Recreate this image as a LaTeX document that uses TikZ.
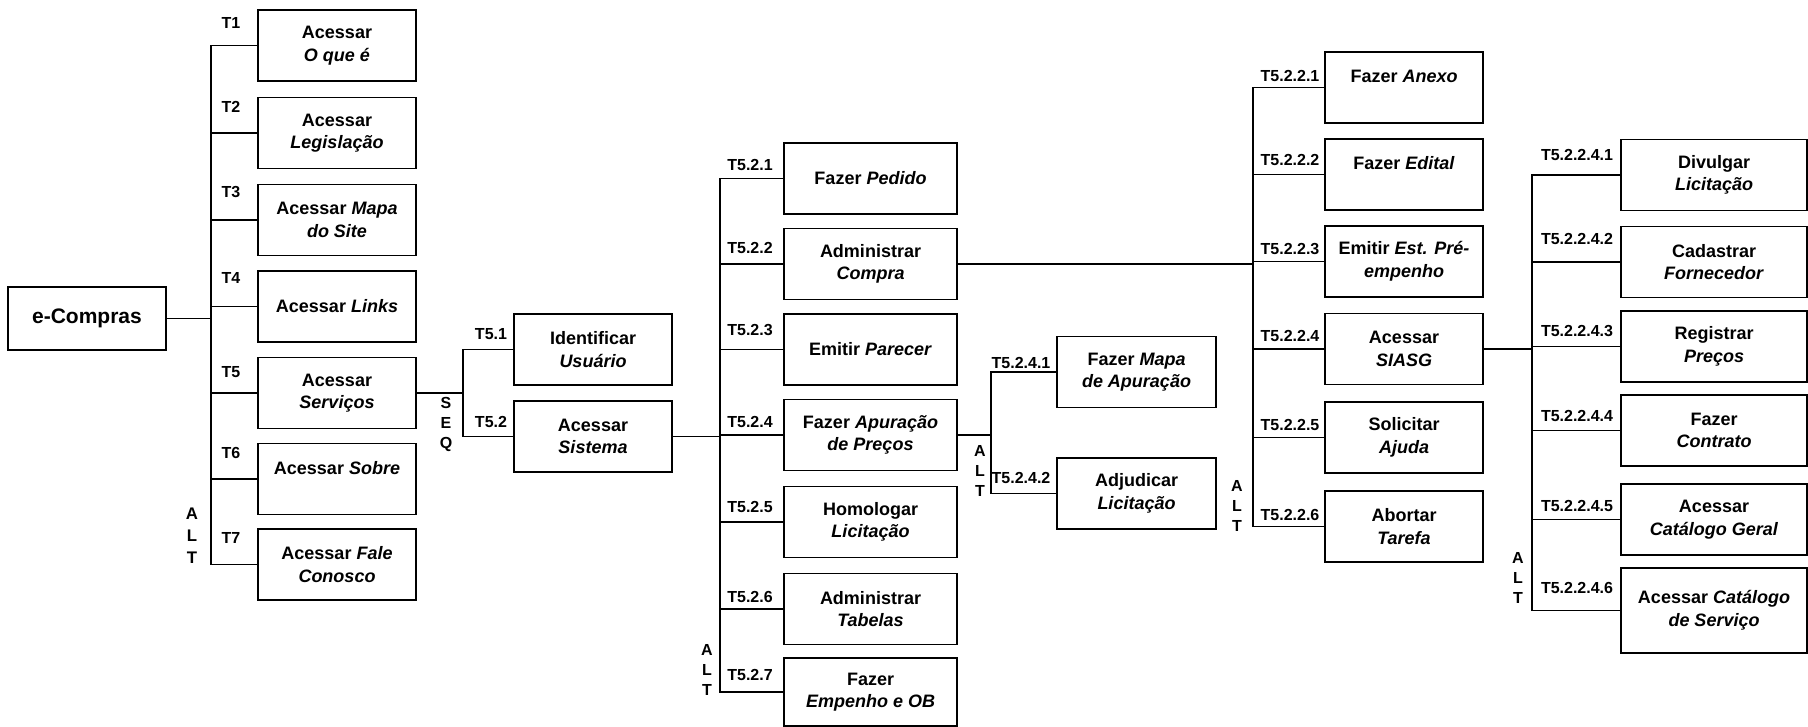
\documentclass[tikz,border=0pt]{standalone}
\usepackage{fontspec}
\setmainfont{Liberation Sans}
\usepackage{tikz}

\tikzset{
  task/.style={draw, line width=0.9pt, align=center, inner sep=2pt,
    minimum width=79pt, minimum height=35.5pt,
    font=\fontsize{9}{11.3}\selectfont\bfseries},
  tlabel/.style={inner sep=0pt, font=\fontsize{8}{9.6}\selectfont\bfseries},
  kind/.style={inner sep=0pt, align=center, font=\fontsize{8}{10}\selectfont\bfseries},
  link/.style={line width=0.8pt},
}

\begin{document}
\begin{tikzpicture}[x=0.5pt, y=-0.5pt]
  \useasboundingbox (0,0) rectangle (1808,727);

  \node (ecompras) at (87,318.5) [task, minimum height=31.5pt,
    font=\fontsize{10.5}{12.6}\selectfont\bfseries] {e-Compras};

  % level 1
  \coordinate (alt1) at (211,0);
  \node (t1) at (337,45.5)  [task] {Acessar\\\textit{O que é}};
  \node (t2) at (337,133)   [task] {Acessar\\\textit{Legislação}};
  \node (t3) at (337,220)   [task] {Acessar \textit{Mapa}\\\textit{do Site}};
  \node (t4) at (337,306.5) [task] {Acessar \textit{Links}};
  \node (t5) at (337,393)   [task] {Acessar\\\textit{Serviços}};
  \node (t6) at (337,479)   [task] {Acessar \textit{Sobre}\\\mbox{}};
  \node (t7) at (337,564.5) [task] {Acessar \textit{Fale}\\\textit{Conosco}};
  \node (lt1) at (231,23)  [tlabel] {T1};
  \node (lt2) at (231,107) [tlabel] {T2};
  \node (lt3) at (231,192) [tlabel] {T3};
  \node (lt4) at (231,278) [tlabel] {T4};
  \node (lt5) at (231,372) [tlabel] {T5};
  \node (lt6) at (231,453) [tlabel] {T6};
  \node (lt7) at (231,538) [tlabel] {T7};
  \node (kalt1) at (192,536) [kind, font=\fontsize{8.4}{11}\selectfont\bfseries] {A\\L\\T};

  \draw[link] (ecompras.east) -- (ecompras.east -| alt1);
  \draw[link] (t1.west) -- (t1.west -| alt1) -- (t7.west -| alt1) -- (t7.west);
  \draw[link] (t2.west) -- (t2.west -| alt1);
  \draw[link] (t3.west) -- (t3.west -| alt1);
  \draw[link] (t4.west) -- (t4.west -| alt1);
  \draw[link] (t5.west) -- (t5.west -| alt1);
  \draw[link] (t6.west) -- (t6.west -| alt1);

  % level 2
  \coordinate (seq1) at (463,0);
  \node (t51) at (593,349.5) [task] {Identificar\\\textit{Usuário}};
  \node (t52) at (593,436.5) [task] {Acessar\\\textit{Sistema}};
  \node (lt51) at (491,334) [tlabel] {T5.1};
  \node (lt52) at (491,422) [tlabel] {T5.2};
  \node (kseq1) at (446,424) [kind] {S\\E\\Q};

  \draw[link] (t5.east) -- (t5.east -| seq1);
  \draw[link] (t51.west) -- (t51.west -| seq1) -- (t52.west -| seq1) -- (t52.west);

  % level 3
  \coordinate (alt2) at (720,0);
  \node (t521) at (870.5,178.5) [task, minimum width=86.5pt] {Fazer \textit{Pedido}};
  \node (t522) at (870.5,264)   [task, minimum width=86.5pt] {Administrar\\\textit{Compra}};
  \node (t523) at (870.5,349.5) [task, minimum width=86.5pt] {Emitir \textit{Parecer}};
  \node (t524) at (870.5,435)   [task, minimum width=86.5pt] {Fazer \textit{Apuração}\\\textit{de Preços}};
  \node (t525) at (870.5,522)   [task, minimum width=86.5pt] {Homologar\\\textit{Licitação}};
  \node (t526) at (870.5,609)   [task, minimum width=86.5pt] {Administrar\\\textit{Tabelas}};
  \node (t527) at (870.5,692)   [task, minimum width=86.5pt, minimum height=34pt] {Fazer\\\textit{Empenho e OB}};
  \node (lt521) at (750,165) [tlabel] {T5.2.1};
  \node (lt522) at (750,248) [tlabel] {T5.2.2};
  \node (lt523) at (750,330) [tlabel] {T5.2.3};
  \node (lt524) at (750,422) [tlabel] {T5.2.4};
  \node (lt525) at (750,507) [tlabel] {T5.2.5};
  \node (lt526) at (750,597) [tlabel] {T5.2.6};
  \node (lt527) at (750,675) [tlabel] {T5.2.7};
  \node (kalt2) at (707,670) [kind] {A\\L\\T};

  \draw[link] (t52.east) -- (t52.east -| alt2);
  \draw[link] (t521.west) -- (t521.west -| alt2) -- (t527.west -| alt2) -- (t527.west);
  \draw[link] (t522.west) -- (t522.west -| alt2);
  \draw[link] (t523.west) -- (t523.west -| alt2);
  \draw[link] (t524.west) -- (t524.west -| alt2);
  \draw[link] (t525.west) -- (t525.west -| alt2);
  \draw[link] (t526.west) -- (t526.west -| alt2);

  % level 4 (apuracao)
  \coordinate (alt3) at (991,0);
  \node (t5241) at (1136.5,372)   [task, minimum width=79.5pt] {Fazer \textit{Mapa}\\\textit{de Apuração}};
  \node (t5242) at (1136.5,493.5) [task, minimum width=79.5pt] {Adjudicar\\\textit{Licitação}};
  \node (lt5241) at (1021,363) [tlabel] {T5.2.4.1};
  \node (lt5242) at (1021,478) [tlabel] {T5.2.4.2};
  \node (kalt3) at (980,471) [kind] {A\\L\\T};

  \draw[link] (t524.east) -- (t524.east -| alt3);
  \draw[link] (t5241.west) -- (t5241.west -| alt3) -- (t5242.west -| alt3) -- (t5242.west);

  % level 4 (compra)
  \coordinate (alt4) at (1253,0);
  \node (t5221) at (1404,87.5)  [task] {Fazer \textit{Anexo}\\\mbox{}};
  \node (t5222) at (1404,174.5) [task] {Fazer \textit{Edital}\\\mbox{}};
  \node (t5223) at (1404,261.5) [task] {Emitir \textit{Est. Pré-}\\\textit{empenho}};
  \node (t5224) at (1404,349)   [task] {Acessar\\\textit{SIASG}};
  \node (t5225) at (1404,437.5) [task] {Solicitar\\\textit{Ajuda}};
  \node (t5226) at (1404,526.5) [task] {Abortar\\\textit{Tarefa}};
  \node (lt5221) at (1290,76)  [tlabel] {T5.2.2.1};
  \node (lt5222) at (1290,160) [tlabel] {T5.2.2.2};
  \node (lt5223) at (1290,249) [tlabel] {T5.2.2.3};
  \node (lt5224) at (1290,336) [tlabel] {T5.2.2.4};
  \node (lt5225) at (1290,425) [tlabel] {T5.2.2.5};
  \node (lt5226) at (1290,515) [tlabel] {T5.2.2.6};
  \node (kalt4) at (1237,506) [kind] {A\\L\\T};

  \draw[link] (t522.east) -- (t522.east -| alt4);
  \draw[link] (t5221.west) -- (t5221.west -| alt4) -- (t5226.west -| alt4) -- (t5226.west);
  \draw[link] (t5222.west) -- (t5222.west -| alt4);
  \draw[link] (t5223.west) -- (t5223.west -| alt4);
  \draw[link] (t5224.west) -- (t5224.west -| alt4);
  \draw[link] (t5225.west) -- (t5225.west -| alt4);

  % level 5
  \coordinate (alt5) at (1532,0);
  \node (t52241) at (1714,175)   [task, minimum width=93pt] {Divulgar\\\textit{Licitação}};
  \node (t52242) at (1714,262)   [task, minimum width=93pt] {Cadastrar\\\textit{Fornecedor}};
  \node (t52243) at (1714,346.5) [task, minimum width=93pt] {Registrar\\\textit{Preços}};
  \node (t52244) at (1714,430.5) [task, minimum width=93pt] {Fazer\\\textit{Contrato}};
  \node (t52245) at (1714,519.5) [task, minimum width=93pt] {Acessar\\\textit{Catálogo Geral}};
  \node (t52246) at (1714,610.5) [task, minimum width=93pt, minimum height=42.5pt] {Acessar \textit{Catálogo}\\\textit{de Serviço}};
  \node (lt52241) at (1577,155) [tlabel] {T5.2.2.4.1};
  \node (lt52242) at (1577,239) [tlabel] {T5.2.2.4.2};
  \node (lt52243) at (1577,331) [tlabel] {T5.2.2.4.3};
  \node (lt52244) at (1577,416) [tlabel] {T5.2.2.4.4};
  \node (lt52245) at (1577,506) [tlabel] {T5.2.2.4.5};
  \node (lt52246) at (1577,588) [tlabel] {T5.2.2.4.6};
  \node (kalt5) at (1518,578) [kind] {A\\L\\T};

  \draw[link] (t5224.east) -- (t5224.east -| alt5);
  \draw[link] (t52241.west) -- (t52241.west -| alt5) -- (t52246.west -| alt5) -- (t52246.west);
  \draw[link] (t52242.west) -- (t52242.west -| alt5);
  \draw[link] (t52243.west) -- (t52243.west -| alt5);
  \draw[link] (t52244.west) -- (t52244.west -| alt5);
  \draw[link] (t52245.west) -- (t52245.west -| alt5);
\end{tikzpicture}
\end{document}
